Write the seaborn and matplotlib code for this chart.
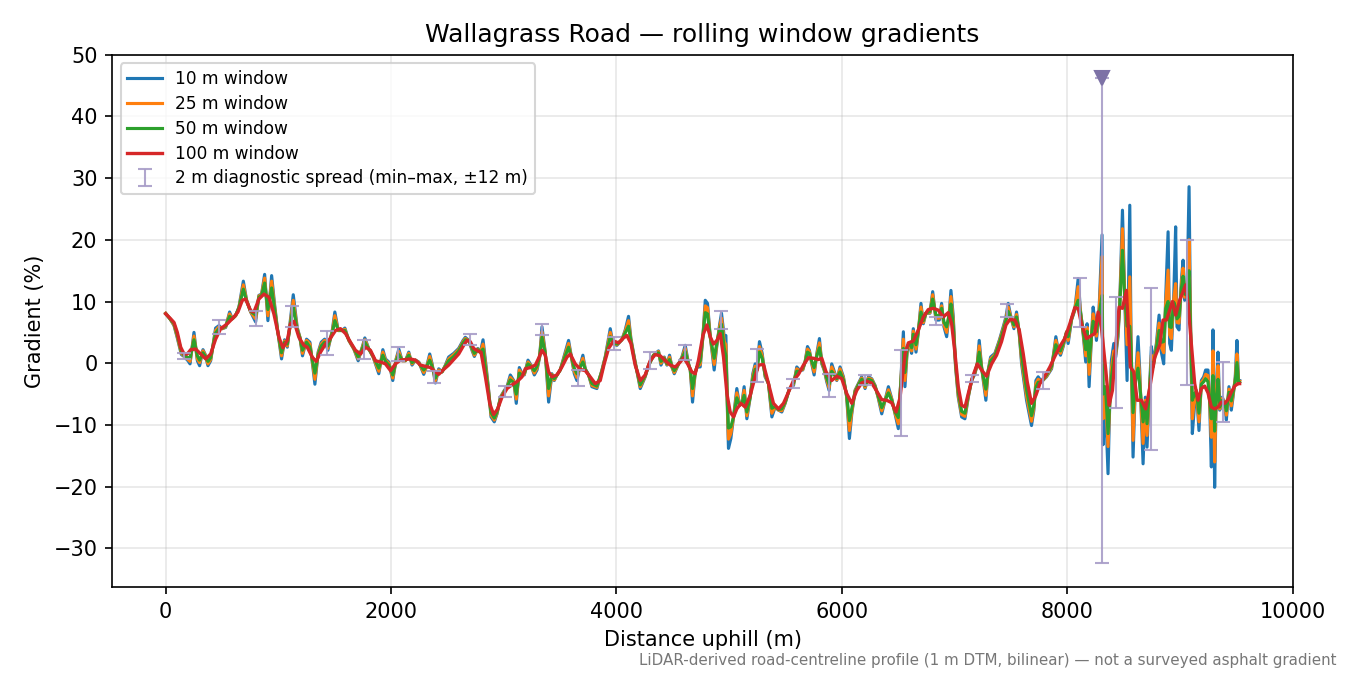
import numpy as np
import pandas as pd
import seaborn as sns
import matplotlib.pyplot as plt

# Distance along the road (m) for the short-window profiles
dist_fine = [
    0, 38, 74, 103, 139, 163, 198, 216, 251, 281, 301, 331, 349, 375, 399, 443, 473, 502, 532, 567,
    591, 621, 650, 689, 718, 754, 798, 827, 851, 878, 907, 940, 966, 990, 1028, 1055, 1079, 1132, 1167, 1191,
    1214, 1250, 1280, 1324, 1353, 1380, 1410, 1439, 1478, 1501, 1531, 1566, 1590, 1625, 1670, 1708, 1744, 1767, 1803, 1841,
    1891, 1927, 1950, 1980, 2015, 2045, 2069, 2098, 2128, 2157,
    2186, 2216, 2246, 2290, 2319, 2343, 2364, 2393, 2423, 2452, 2482, 2511, 2556, 2600, 2639, 2659, 2689, 2718, 2739, 2769,
    2792, 2816, 2837, 2866, 2887, 2916, 2940, 2970, 3005, 3029, 3058, 3088, 3111, 3138, 3162, 3182, 3215, 3241, 3271, 3295,
    3318, 3339, 3368, 3398, 3427, 3448, 3472, 3501, 3546, 3575, 3605, 3626, 3649, 3679, 3702, 3723, 3753, 3782, 3826, 3871,
    3900, 3945, 3968, 4004, 4048, 4078, 4107, 4128, 4166, 4211, 4255, 4285, 4329, 4373,
    4395, 4424, 4448, 4471, 4492, 4513, 4551, 4581, 4610, 4640, 4655, 4675, 4699, 4714, 4743, 4767, 4788, 4808, 4832, 4847,
    4867, 4891, 4915, 4932, 4956, 4971, 4986, 4994, 5015, 5039, 5068, 5092, 5113, 5133, 5157, 5187, 5210, 5231, 5246, 5269,
    5293, 5319, 5349, 5379, 5408, 5438, 5467, 5497, 5535, 5571, 5600, 5624, 5653, 5674, 5695, 5712, 5733, 5754, 5778, 5801,
    5822, 5843, 5866, 5887, 5910, 5934, 5955, 5984, 6014, 6043, 6067, 6088, 6117, 6147, 6176, 6206, 6236, 6265, 6295, 6324,
    6354, 6383, 6413, 6442, 6472, 6501, 6546, 6560, 6581, 6599, 6619, 6634, 6658, 6679, 6702, 6723, 6746, 6782, 6806, 6835,
    6865, 6885, 6906, 6930, 6953, 6968, 6989, 7009, 7033, 7063, 7092, 7122, 7151, 7181, 7202, 7219, 7240, 7255, 7278, 7299,
    7320, 7358, 7397, 7432, 7456, 7476, 7506, 7527, 7550, 7574, 7595, 7615, 7639, 7663, 7683, 7704, 7722, 7742, 7772, 7816,
    7861, 7899, 7920, 7940, 7964, 7994, 8008, 8038, 8067, 8097,
    8117, 8141, 8164, 8176, 8194, 8215, 8230, 8244, 8259, 8280, 8309, 8318, 8339, 8362, 8377, 8392, 8413, 8430, 8451, 8466,
    8490, 8510, 8531, 8555, 8566, 8584, 8605, 8628, 8643, 8673, 8693, 8708, 8732, 8747, 8762, 8791, 8815, 8835, 8856, 8874,
    8895, 8909, 8924, 8945, 8962, 8974, 8992, 9013, 9028, 9042, 9063, 9081, 9095, 9110, 9131, 9146, 9169, 9190, 9211, 9228,
    9249, 9264, 9279, 9293, 9308, 9323, 9338, 9353, 9376, 9397, 9412, 9435, 9456, 9471, 9491, 9506, 9521, 9530,
]

grad_10 = [
    8.1, 7.2, 6.1, 4.1, 1.4, 1.1, 0.4, -0.1, 5.0, 0.4, -0.4, 2.2, 1.5, -0.4, 0.4, 5.7, 6.1, 5.6, 5.8, 8.3,
    7.2, 7.7, 9.1, 13.3, 10.2, 8.3, 6.7, 11.0, 11.2, 14.4, 6.9, 14.2, 9.6, 5.8, 0.7, 3.8, 2.6, 11.1, 5.8, 4.2,
    1.2, 3.9, 3.4, -3.4, 1.8, 3.4, 3.9, 2.1, 5.3, 8.3, 5.3, 5.3, 5.7, 3.7, 2.3, 0.4, 2.6, 4.1, 2.3, 1.0,
    -1.7, 2.2, 0.7, 0.2, -2.8, 0.7, 2.3, 0.4, 0.4, 1.8,
    -0.3, 0.5, 0.2, -1.8, -0.3, 1.5, -0.1, -3.2, -0.9, -1.4, -0.3, 1.0, 1.6, 2.4, 3.7, 4.2, 3.7, 2.1, 1.1, 2.4,
    1.7, 3.8, 0.5, -4.4, -8.7, -9.5, -8.2, -5.5, -4.4, -3.8, -1.9, -2.8, -6.5, -0.7, -1.7, -1.9, 0.5, -0.3, -1.9, -1.1,
    1.0, 5.9, 1.8, -6.3, -1.7, -2.8, -1.9, -1.1, 1.8, 3.7, 0.5, -1.7, -2.8, -0.3, 1.3, -0.9, -1.9, -3.8, -4.1, -1.1,
    1.0, 5.6, 3.2, 2.9, 3.8, 5.4, 7.6, 4.0, 0.2, -4.1, -2.2, -0.3, 1.3, 2.0,
    -0.3, 1.0, -0.3, 1.3, -0.6, -1.7, -0.1, 1.0, 2.9, -0.1, -1.1, -6.3, -1.4, -0.6, -0.6, 4.3, 10.2, 9.7, 4.3, 2.1,
    -1.1, 2.9, 6.2, 8.1, 4.3, 4.5, -8.7, -13.8, -12.2, -8.7, -4.1, -6.8, -6.5, -3.8, -9.0, -5.5, -1.7, -0.1, -1.1, 3.5,
    1.6, -2.2, -3.3, -8.7, -7.1, -7.6, -7.9, -6.5, -4.1, -3.6, -0.6, -1.1, -1.1, 0.2, 2.7, 2.1, -0.1, -1.9, 1.6, 4.0,
    -0.1, -1.1, -3.0, -4.4, -0.1, -1.4, -2.8, -0.6, -2.2, -5.5, -12.2, -8.2, -4.4, -3.3, -2.2, -4.1, -2.2, -2.5, -3.6, -5.7,
    -8.2, -6.0, -3.8, -5.7, -8.2, -10.6, 5.1, -3.8, 2.4, 3.2, 1.6, 5.6, 1.8, 5.1, 9.7, 6.4, 8.1, 8.1, 11.6, 7.0,
    7.0, 9.7, 5.9, 4.3, 8.1, 11.8, 7.5, -0.6, -5.5, -8.7, -9.0, -5.5, -2.8, -1.7, -0.1, 3.7, -0.6, -2.8, -6.0, -1.1,
    1.0, 1.6, 3.7, 5.9, 7.5, 9.7, 7.0, 5.6, 8.3, 4.8, -0.1, -2.8, -6.0, -8.2, -10.1, -7.6, -2.8, -2.2, -3.0, -2.2,
    -0.9, 4.3, 2.1, 1.3, 2.7, 5.1, 3.2, 7.0, 8.6, 13.7,
    8.6, 4.8, 0.2, 6.4, -3.8, 4.3, 9.1, 7.0, 3.7, 7.5, 20.8, -13.2, -6.5, -17.9, -6.5, 0.5, 3.2, 1.0, 4.3, 9.7,
    24.8, 10.8, -2.8, 25.6, 4.3, -15.2, -3.3, 4.3, -1.1, -16.3, -5.5, -13.6, -3.3, 2.7, -0.1, 3.2, 7.8, 1.8, -0.1, 10.8,
    21.3, 3.2, 2.1, 10.8, 22.1, 5.9, 5.4, 13.5, 16.7, 10.2, 11.3, 28.6, 5.4, -11.4, -6.5, -4.4, -10.9, -2.8, -2.2, -1.1,
    -1.1, -6.5, -16.8, 5.4, -20.1, -3.8, 1.8, -7.6, -5.5, -6.5, -9.2, -3.8, -7.6, -5.5, -2.2, 3.7, -3.3, -2.8,
]

grad_25 = [
    8.1, 7.2, 6.2, 4.3, 1.6, 1.2, 0.6, 0.3, 4.4, 0.7, 0.1, 2.0, 1.4, -0.1, 0.6, 5.3, 5.9, 5.6, 5.9, 8.0,
    7.2, 7.7, 9.0, 12.7, 10.2, 8.3, 7.2, 10.9, 11.1, 13.8, 7.7, 13.3, 9.2, 5.7, 1.2, 3.6, 2.8, 10.2, 5.6, 4.2,
    1.6, 3.7, 3.1, -2.6, 1.6, 3.1, 3.7, 2.4, 5.1, 7.7, 5.3, 5.3, 5.5, 3.7, 2.3, 0.7, 2.5, 3.8, 2.3, 1.0,
    -1.3, 1.8, 0.5, 0.0, -2.4, 0.6, 1.9, 0.4, 0.4, 1.6,
    -0.1, 0.5, 0.1, -1.5, -0.4, 1.1, -0.3, -2.8, -1.1, -1.4, -0.4, 0.7, 1.4, 2.2, 3.5, 4.0, 3.7, 2.3, 1.3, 2.3,
    1.7, 3.1, 0.0, -4.6, -8.4, -9.2, -8.1, -5.6, -4.5, -3.9, -2.3, -2.9, -5.8, -1.1, -1.8, -1.8, 0.2, -0.4, -1.6, -0.8,
    1.0, 5.1, 1.7, -5.3, -1.8, -2.7, -1.9, -1.1, 1.5, 3.2, 0.6, -1.3, -2.3, -0.4, 0.8, -1.0, -1.9, -3.6, -3.9, -1.2,
    0.9, 5.0, 3.3, 3.0, 3.8, 5.2, 6.9, 3.8, 0.1, -3.8, -2.1, -0.3, 1.3, 1.9,
    0.0, 0.9, -0.2, 1.0, -0.6, -1.5, -0.1, 0.9, 2.4, -0.2, -1.1, -5.3, -1.5, -0.6, -0.2, 4.3, 9.3, 9.0, 4.3, 2.4,
    -0.2, 3.1, 5.9, 7.3, 3.5, 3.0, -8.1, -12.3, -11.4, -8.7, -4.8, -6.8, -6.5, -4.4, -8.5, -5.4, -2.1, -0.5, -1.1, 2.7,
    1.2, -2.0, -3.3, -8.1, -7.0, -7.6, -7.7, -6.4, -4.1, -3.4, -0.9, -1.2, -1.0, 0.2, 2.3, 1.9, 0.1, -1.4, 1.4, 3.3,
    0.1, -1.0, -2.7, -4.0, -0.6, -1.6, -2.7, -0.9, -2.4, -5.4, -10.9, -7.9, -4.5, -3.4, -2.4, -3.9, -2.4, -2.6, -3.7, -5.6,
    -7.7, -6.0, -4.3, -5.8, -8.1, -9.8, 3.9, -2.8, 2.5, 3.2, 2.0, 5.2, 2.3, 5.2, 9.1, 6.6, 8.1, 8.2, 11.1, 7.3,
    7.3, 9.3, 6.2, 5.0, 8.1, 10.8, 6.8, -0.3, -5.2, -8.3, -8.6, -5.4, -2.8, -1.6, -0.1, 2.8, -0.7, -2.5, -5.2, -1.2,
    0.7, 1.4, 3.5, 5.6, 7.2, 9.1, 7.0, 5.9, 7.9, 4.9, 0.5, -2.1, -5.3, -7.5, -9.4, -7.2, -3.3, -2.6, -3.0, -2.1,
    -0.7, 3.7, 2.1, 1.6, 2.9, 5.1, 3.7, 7.1, 8.7, 12.4,
    8.4, 5.0, 1.2, 5.8, -1.8, 4.3, 8.0, 6.5, 4.4, 7.6, 17.3, -9.0, -5.1, -13.5, -6.5, -0.9, 2.0, 1.4, 5.0, 9.5,
    21.8, 10.7, 3.0, 14.0, 3.4, -12.5, -3.1, 1.7, -2.3, -13.0, -6.0, -11.7, -3.5, 1.3, -0.3, 2.8, 6.5, 2.6, 1.7, 9.8,
    15.1, 4.6, 4.0, 10.3, 12.9, 6.6, 6.5, 12.8, 15.4, 10.7, 11.2, 20.0, 5.2, -9.0, -5.7, -4.5, -9.5, -3.1, -2.6, -1.8,
    -2.0, -6.4, -12.0, 2.0, -16.0, -4.6, -0.4, -7.4, -5.7, -6.5, -8.4, -4.2, -6.9, -5.2, -2.5, 1.5, -3.3, -2.9,
]

grad_50 = [
    8.0, 7.2, 6.4, 4.6, 1.9, 1.3, 0.9, 0.8, 3.8, 1.2, 0.5, 1.7, 1.2, 0.3, 0.9, 4.9, 5.6, 5.7, 6.0, 7.6,
    7.2, 7.8, 9.0, 12.0, 10.1, 8.4, 7.8, 10.7, 11.0, 13.0, 8.7, 12.2, 8.7, 5.6, 1.7, 3.4, 3.1, 9.2, 5.4, 4.1,
    2.1, 3.4, 2.6, -1.6, 1.4, 2.8, 3.4, 2.8, 4.9, 6.9, 5.4, 5.3, 5.3, 3.8, 2.4, 1.0, 2.3, 3.4, 2.3, 1.1,
    -0.8, 1.3, 0.3, -0.3, -1.9, 0.4, 1.4, 0.5, 0.5, 1.3,
    0.1, 0.5, 0.0, -1.1, -0.4, 0.5, -0.5, -2.4, -1.3, -1.4, -0.5, 0.4, 1.1, 2.0, 3.3, 3.8, 3.7, 2.5, 1.6, 2.2,
    1.8, 2.3, -0.7, -4.9, -8.0, -8.9, -7.9, -5.8, -4.6, -3.9, -2.7, -3.1, -5.0, -1.6, -1.9, -1.6, -0.1, -0.5, -1.2, -0.5,
    1.1, 4.2, 1.6, -4.1, -1.9, -2.5, -1.9, -1.1, 1.2, 2.6, 0.7, -0.8, -1.7, -0.6, 0.2, -1.0, -1.9, -3.3, -3.7, -1.3,
    0.8, 4.3, 3.4, 3.1, 3.8, 4.9, 6.0, 3.6, 0.0, -3.5, -2.0, -0.4, 1.3, 1.7,
    0.3, 0.8, -0.1, 0.6, -0.5, -1.2, -0.1, 0.8, 1.9, -0.2, -1.0, -4.1, -1.5, -0.7, 0.4, 4.4, 8.2, 8.0, 4.3, 2.8,
    0.8, 3.3, 5.5, 6.3, 2.5, 1.2, -7.3, -10.5, -10.3, -8.7, -5.6, -6.8, -6.5, -5.2, -7.9, -5.4, -2.6, -1.0, -1.1, 1.8,
    0.8, -1.8, -3.3, -7.3, -7.0, -7.5, -7.4, -6.3, -4.2, -3.2, -1.3, -1.3, -0.8, 0.2, 1.8, 1.6, 0.3, -0.7, 1.2, 2.5,
    0.3, -0.8, -2.4, -3.4, -1.3, -1.9, -2.5, -1.4, -2.7, -5.2, -9.3, -7.4, -4.7, -3.5, -2.6, -3.6, -2.6, -2.8, -3.8, -5.4,
    -7.2, -6.0, -4.8, -6.0, -7.9, -8.8, 2.4, -1.5, 2.7, 3.3, 2.5, 4.7, 3.0, 5.3, 8.3, 6.9, 8.1, 8.4, 10.4, 7.8,
    7.6, 8.9, 6.7, 5.9, 8.0, 9.6, 5.9, 0.0, -4.7, -7.8, -8.1, -5.2, -2.8, -1.4, -0.1, 1.8, -0.8, -2.2, -4.2, -1.2,
    0.4, 1.2, 3.2, 5.3, 6.9, 8.4, 7.1, 6.2, 7.5, 5.1, 1.3, -1.2, -4.3, -6.6, -8.5, -6.8, -3.9, -3.1, -3.0, -1.9,
    -0.5, 3.0, 2.2, 2.0, 3.2, 5.0, 4.3, 7.2, 8.8, 10.2,
    8.2, 5.2, 2.2, 5.2, 0.2, 4.4, 6.8, 5.9, 5.1, 7.6, 11.0, -5.0, -3.8, -11.4, -6.5, -2.3, 0.9, 1.9, 5.7, 9.4,
    18.3, 10.6, 6.0, 6.0, 2.4, -8.0, -2.9, -0.8, -3.5, -9.5, -6.4, -9.8, -3.7, 0.1, -0.6, 2.4, 5.3, 3.4, 3.5, 8.9,
    10.0, 5.9, 5.8, 9.9, 9.0, 7.2, 7.6, 12.2, 14.1, 11.2, 11.1, 15.0, 5.0, -6.0, -4.9, -4.6, -8.1, -3.4, -3.0, -2.5,
    -3.0, -6.2, -9.0, -2.0, -11.0, -5.5, -2.6, -7.1, -6.0, -6.5, -7.7, -4.7, -6.1, -4.8, -2.9, 0.1, -3.3, -3.1,
]

# 100 m window profile
dist_100 = [
    0, 44, 74, 103, 133, 163, 192, 222, 266, 310, 355, 399, 443, 488, 547, 606, 641, 680, 709, 754,
    783, 827, 872, 916, 960, 1005, 1040, 1079, 1108, 1138, 1182, 1226, 1256, 1300, 1336, 1374, 1418, 1463, 1507, 1551,
    1596, 1640, 1684, 1729, 1773, 1817, 1862, 1906, 1950, 1995, 2039, 2083, 2127, 2172, 2216, 2260, 2305, 2349, 2393, 2423,
    2467, 2511, 2556, 2600, 2644, 2674, 2703, 2733, 2769, 2798, 2837, 2875, 2910, 2946, 2984, 3029, 3073, 3117, 3162, 3191,
    3235, 3280, 3309, 3339, 3368, 3398, 3427, 3472, 3516, 3561, 3590, 3634, 3679, 3723, 3767, 3812, 3856, 3891, 3930, 3974,
    4019, 4057, 4092, 4128, 4166, 4211, 4255, 4299, 4344, 4389, 4433, 4477, 4522, 4566, 4596, 4631, 4669, 4699, 4728, 4767,
    4802, 4832, 4861, 4891, 4921, 4950, 4980, 5009, 5039, 5068, 5104, 5142, 5187, 5222, 5260, 5305, 5349, 5393, 5438, 5482,
    5526, 5571, 5615, 5659, 5704, 5748, 5792, 5822, 5860, 5910, 5955, 5999, 6043, 6088, 6132, 6176, 6221, 6265, 6309, 6354,
    6398, 6442, 6481, 6516, 6545, 6561, 6590, 6634, 6679, 6723, 6767, 6812, 6856, 6900, 6944, 6974, 7004, 7033, 7063, 7093,
    7122, 7160, 7202, 7240, 7284, 7329, 7373, 7417, 7456, 7491, 7536, 7574, 7609, 7645, 7683, 7722, 7757, 7801, 7846, 7890,
    7934, 7978, 8023, 8067, 8097, 8126, 8170, 8215, 8244, 8274, 8303, 8342, 8371, 8401, 8430, 8460, 8490, 8525, 8560, 8590,
    8620, 8658, 8696, 8732, 8776, 8821, 8850, 8880, 8909, 8933, 8962, 8998, 9028, 9051, 9072, 9101, 9131, 9160, 9190, 9220,
    9249, 9279, 9308, 9338, 9367, 9397, 9426, 9456, 9486, 9515, 9530,
]

grad_100 = [
    8.0, 7.2, 6.6, 5.0, 2.6, 1.5, 1.5, 2.2, 2.3, 1.5, 0.7, 1.5, 3.9, 5.6, 6.4, 7.5, 8.3, 10.2, 10.4, 8.5,
    8.3, 10.4, 11.2, 10.7, 8.0, 4.2, 2.5, 3.7, 6.4, 6.8, 4.2, 2.9, 2.6, 1.0, 0.3, 1.8, 3.1, 4.1, 5.3, 5.6,
    4.8, 3.4, 2.1, 1.5, 2.6, 2.1, 0.4, 0.2, -0.1, -1.2, -0.1, 0.5, 0.6, 0.7, 0.5, -0.3, -0.5, -0.7, -1.4, -1.8,
    -1.0, -0.3, 0.6, 1.5, 2.9, 3.7, 3.5, 2.4, 2.0, 1.8, -2.2, -6.5, -8.3, -7.4, -5.5, -4.1, -3.5, -3.0, -2.2, -0.9,
    -0.7, -0.3, 0.8, 2.1, 1.3, -1.4, -2.2, -1.9, -0.6, 1.0, 1.5, -0.1, -1.0, -1.2, -2.2, -3.3, -2.8, -0.1, 2.4, 3.6,
    3.3, 4.0, 4.5, 3.2, -0.3, -2.8, -1.9, 0.4, 1.4, 1.2, 0.4, -0.3, -0.6, 0.2, 0.9, -0.1, -1.4, -1.7, 0.5, 4.5,
    6.2, 4.3, 3.1, 3.7, 4.8, 1.0, -4.9, -7.9, -8.7, -7.4, -6.5, -7.1, -5.2, -2.8, -0.3, -0.2, -3.3, -6.5, -7.4, -6.5,
    -4.7, -2.8, -1.8, -0.3, 0.9, 0.8, 0.6, 0.8, -1.4, -2.8, -2.1, -2.5, -4.9, -6.5, -4.4, -3.2, -2.9, -3.2, -4.5, -5.9,
    -6.0, -6.4, -7.9, -5.6, -1.0, 1.5, 3.3, 3.6, 5.4, 7.5, 8.7, 8.9, 8.6, 7.5, 8.2, 6.4, 1.6, -3.8, -6.8, -7.1,
    -4.9, -2.2, -0.1, -1.1, -2.1, -0.1, 1.3, 3.5, 6.2, 7.1, 7.0, 5.4, 1.6, -3.0, -6.5, -5.2, -3.3, -2.1, -0.6, 1.1,
    2.7, 4.0, 6.4, 9.0, 8.9, 6.4, 4.0, 4.5, 4.8, 8.3, 5.9, -1.1, -6.8, -4.4, 2.7, 9.1, 8.9, 11.8, -0.6, -1.4,
    -6.0, -6.0, -7.4, -4.0, 0.9, 3.0, 7.0, 7.0, 8.6, 10.0, 7.8, 10.2, 11.6, 12.7, 9.7, 3.2, -3.3, -6.0, -4.1, -3.7,
    -4.8, -7.1, -7.4, -7.1, -6.3, -6.5, -5.9, -4.7, -3.7, -3.3, -3.3,
]

# 2 m diagnostic spread (min / max within +-12 m)
spread_x = [163, 473, 798, 1123, 1433, 1758, 2060, 2384, 2698, 3014, 3339, 3658, 3974, 4299, 4610, 4926,
            5246, 5565, 5887, 6206, 6522, 6835, 7151, 7467, 7787, 8111, 8312, 8430, 8747, 9066, 9382]
spread_lo = [0.7, 4.7, 6.1, 5.9, 1.4, 0.7, 0.4, -3.2, 2.9, -5.4, 4.5, -3.7, 2.2, -0.9, 0.5, 5.5,
             -3.0, -4.0, -5.4, -3.6, -11.8, 6.2, -3.0, 7.5, -4.1, 5.9, -32.4, -7.2, -14.1, -3.6, -9.5]
spread_hi = [1.6, 7.0, 8.5, 9.2, 5.3, 3.7, 2.7, -1.2, 4.7, -3.7, 6.3, -1.1, 4.2, 1.8, 2.9, 8.4,
             2.3, -2.5, -1.8, -1.9, 2.1, 7.5, -1.9, 9.6, -1.4, 13.8, 46.3, 10.8, 12.2, 20.0, 0.2]

# spread that runs off the top of the chart
clip_x = [8312]
clip_y = [46.3]

fig, ax = plt.subplots(figsize=(9, 4.5), dpi=150)
fig.subplots_adjust(left=0.083, right=0.958, top=0.919, bottom=0.130)

sns.lineplot(x=dist_fine, y=grad_10, ax=ax, color="tab:blue", lw=1.5, estimator=None, label="10 m window")
sns.lineplot(x=dist_fine, y=grad_25, ax=ax, color="tab:orange", lw=1.5, estimator=None, label="25 m window")
sns.lineplot(x=dist_fine, y=grad_50, ax=ax, color="tab:green", lw=1.5, estimator=None, label="50 m window")
sns.lineplot(x=dist_100, y=grad_100, ax=ax, color="tab:red", lw=1.6, estimator=None, label="100 m window")

lo = np.array(spread_lo)
hi = np.array(spread_hi)
mid = (lo + hi) / 2
ax.errorbar(spread_x, mid, yerr=[mid - lo, hi - mid], fmt="none", ecolor="#a89cc8",
            elinewidth=1.0, capsize=3.5, alpha=0.9,
            label="2 m diagnostic spread (min\u2013max, \u00b112 m)")
ax.plot(clip_x, clip_y, marker="v", ls="none", color="#7d72a6", ms=6.5, zorder=5)

ax.set_xlim(-476, 10006)
ax.set_ylim(-36.3, 50)
ax.grid(True, alpha=0.3)
ax.set_title("Wallagrass Road \u2014 rolling window gradients", fontsize=12)
ax.set_xlabel("Distance uphill (m)")
ax.set_ylabel("Gradient (%)")
ax.legend(loc="upper left", fontsize=8.2, labelspacing=0.4)

fig.text(0.99, 0.022, "LiDAR-derived road-centreline profile (1 m DTM, bilinear) \u2014 not a surveyed asphalt gradient",
         ha="right", va="center", fontsize=7.25, color="#777777")

fig.savefig("out.png", dpi=150)
